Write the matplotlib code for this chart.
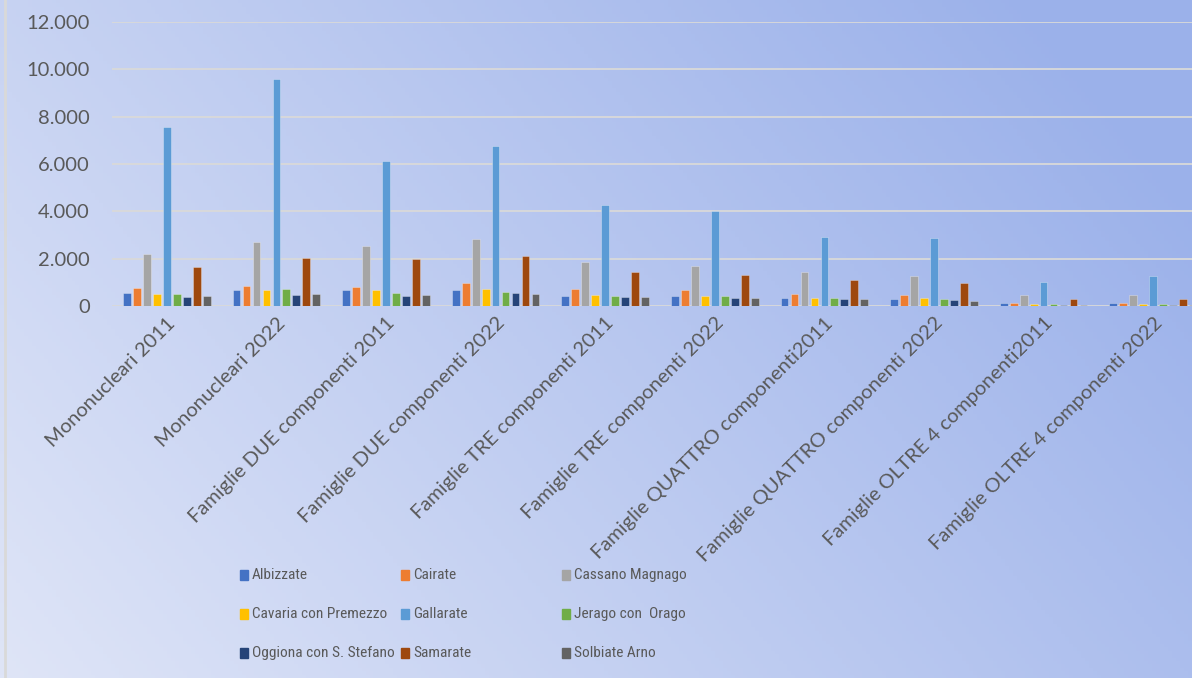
import numpy as np
import matplotlib
matplotlib.use('Agg')
import matplotlib.pyplot as plt
from matplotlib.patches import Rectangle
from matplotlib.ticker import FuncFormatter
from matplotlib import font_manager

plt.rcParams['font.family'] = ['Lato', 'DejaVu Sans']

# font stretto per la legenda, solo se c'e' davvero un file condensed/narrow
font_leg = 'Lato'
for nome_font in ['Roboto Condensed', 'Liberation Sans Narrow',
                  'DejaVu Sans Condensed', 'Noto Sans Condensed']:
    try:
        f = font_manager.findfont(nome_font, fallback_to_default=False)
        if 'ondensed' in f or 'Narrow' in f:
            font_leg = nome_font
            break
    except Exception:
        pass

# ==============================
# dati
# ==============================
categorie = ['Mononucleari 2011', 'Mononucleari 2022',
             'Famiglie DUE componenti 2011', 'Famiglie DUE componenti 2022',
             'Famiglie TRE componenti 2011', 'Famiglie TRE componenti 2022',
             'Famiglie QUATTRO componenti2011', 'Famiglie QUATTRO componenti 2022',
             'Famiglie OLTRE 4 componenti2011', 'Famiglie OLTRE 4 componenti 2022']

comuni = ['Albizzate', 'Cairate', 'Cassano Magnago', 'Cavaria con Premezzo',
          'Gallarate', 'Jerago con  Orago', 'Oggiona con S. Stefano',
          'Samarate', 'Solbiate Arno']

albizzate = [560, 660, 660, 660, 420, 420, 320, 280, 110, 110]
cairate = [760, 840, 800, 990, 700, 660, 520, 470, 140, 140]
cassano = [2200, 2720, 2540, 2820, 1870, 1690, 1450, 1270, 470, 470]
cavaria = [520, 660, 660, 700, 470, 420, 340, 340, 100, 100]
gallarate = [7550, 9600, 6140, 6750, 4250, 4030, 2900, 2860, 1030, 1270]
jerago = [520, 700, 560, 600, 420, 420, 340, 280, 100, 100]
oggiona = [380, 480, 420, 560, 380, 340, 280, 240, 60, 60]
samarate = [1650, 2030, 1970, 2110, 1450, 1310, 1090, 990, 280, 280]
solbiate = [440, 520, 470, 520, 380, 340, 280, 200, 60, 60]

valori = [albizzate, cairate, cassano, cavaria, gallarate,
          jerago, oggiona, samarate, solbiate]

colori = ['#4472C4', '#ED7D31', '#A5A5A5', '#FFC000', '#5B9BD5',
          '#70AD47', '#264478', '#9E480E', '#636363']

# ==============================
# figura + sfondo sfumato
# ==============================
W, H = 1192, 678
fig = plt.figure(figsize=(W / 100, H / 100), dpi=100)

bg = fig.add_axes([0, 0, 1, 1], zorder=-10)
xx, yy = np.meshgrid(np.linspace(0, 1, 300), np.linspace(0, 1, 200))
t = np.clip(0.75 * xx + 0.35 * yy, 0, 1)
c0 = np.array(matplotlib.colors.to_rgb('#dfe5f7'))
c1 = np.array(matplotlib.colors.to_rgb('#9bb1ea'))
img = c0[None, None, :] + (c1 - c0)[None, None, :] * t[..., None]
bg.imshow(img, origin='lower', extent=[0, 1, 0, 1], aspect='auto')
bg.set_xlim(0, 1)
bg.set_ylim(0, 1)
bg.axis('off')
bg.plot([5 / W, 5 / W], [0, 1], color='#d9d9d9', lw=2)

# ==============================
# grafico
# ==============================
left, right, top, bottom = 112, 1208, 22, 306
ax = fig.add_axes([left / W, 1 - bottom / H, (right - left) / W, (bottom - top) / H])
ax.patch.set_alpha(0)

x = np.arange(len(categorie))
n = len(comuni)
passo = 0.0912
larg = passo * 0.78
for i, (nome, v, c) in enumerate(zip(comuni, valori, colori)):
    ax.bar(x + (i - (n - 1) / 2) * passo, v, width=larg, color=c,
           edgecolor=(1, 1, 1, 0.35), linewidth=0.6, zorder=3, label=nome)

ax.set_xlim(-0.5, len(categorie) - 0.5)
ax.set_ylim(0, 12000)
ax.set_yticks(np.arange(0, 12001, 2000))
ax.yaxis.set_major_formatter(FuncFormatter(lambda v, p: f"{int(v):,}".replace(',', '.')))
ax.grid(axis='y', color='#d9d9d9', linewidth=1.3, zorder=1)
ax.set_axisbelow(True)
for s in ax.spines.values():
    s.set_visible(False)

ax.tick_params(axis='y', length=0, pad=16, labelsize=14.5, labelcolor='#595959')
ax.tick_params(axis='x', length=0, pad=6, labelsize=14.5, labelcolor='#595959')
ax.set_xticks(x)
ax.set_xticklabels(categorie, rotation=45, ha='right', va='top', rotation_mode='anchor')

# ==============================
# legenda (colonne di larghezza uguale, come Excel)
# ==============================
# dimensione del font tale che il nome piu' lungo stia nella colonna
renderer = fig.canvas.get_renderer()
prova = fig.text(0, 0, 'Oggiona con S. Stefano', fontsize=12,
                 family=[font_leg, 'DejaVu Sans'])
size_leg = min(14.5, 12 * 143 / prova.get_window_extent(renderer).width)
prova.remove()

for i, (nome, c) in enumerate(zip(comuni, colori)):
    riga, col = i // 3, i % 3
    px = 240 + col * 161
    py = 575 + riga * 39
    fig.patches.append(Rectangle((px / W, 1 - (py + 5) / H), 8 / W, 10 / H,
                                 transform=fig.transFigure, color=c))
    fig.text((px + 12) / W, 1 - py / H, nome, fontsize=size_leg, color='#595959',
             ha='left', va='center', family=[font_leg, 'DejaVu Sans'])

fig.savefig('out.png', dpi=100)
